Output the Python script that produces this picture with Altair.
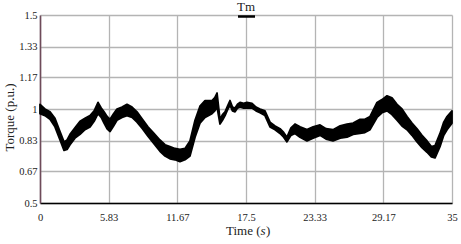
import altair as alt
import pandas as pd

# values (time in s, upper / lower edge of the noisy trace in p.u.)
time_s = [0.0, 0.42, 0.85, 1.27, 1.70, 2.04, 2.30, 2.55, 2.97, 3.40, 3.82, 4.25, 4.60, 4.93,
          5.20, 5.44, 5.70, 5.95, 6.25, 6.54, 6.97, 7.39, 7.82, 8.24, 8.70, 9.17, 9.68,
          10.19, 10.62, 11.04, 11.47, 11.89, 12.32, 12.74, 13.17, 13.59, 14.02, 14.61, 14.85,
          15.04, 15.29, 15.50, 15.72, 15.93, 16.14, 16.35, 16.57, 16.78, 16.99, 17.30, 17.58,
          18.01, 18.35, 18.69, 19.11, 19.54, 19.97, 20.39, 20.70, 20.98, 21.32, 21.66, 22.09,
          22.68, 23.20, 23.79, 24.30, 24.89, 25.50, 26.08, 26.60, 27.19, 27.60, 28.04, 28.63,
          29.05, 29.48, 29.90, 30.33, 30.75, 31.18, 31.60, 32.03, 32.45, 32.88, 33.25, 33.56,
          33.98, 34.30, 34.58, 35.0]
torque_hi = [1.025, 1.00, 0.985, 0.95, 0.88, 0.825, 0.835, 0.865, 0.90, 0.935, 0.95, 0.965,
             0.99, 1.035, 1.005, 0.985, 0.96, 0.945, 0.975, 1.00, 1.01, 1.025, 1.01, 0.985,
             0.945, 0.905, 0.87, 0.835, 0.81, 0.80, 0.79, 0.785, 0.79, 0.83, 0.94, 1.015,
             1.045, 1.045, 1.06, 1.085, 0.945, 0.97, 0.985, 1.015, 1.045, 1.01, 1.005, 1.025,
             1.035, 1.03, 1.035, 1.03, 1.01, 1.00, 0.99, 0.93, 0.91, 0.895, 0.875, 0.85,
             0.90, 0.92, 0.905, 0.89, 0.905, 0.915, 0.895, 0.89, 0.91, 0.92, 0.925, 0.945,
             0.945, 0.96, 1.035, 1.05, 1.07, 1.06, 1.025, 1.00, 0.96, 0.925, 0.895, 0.86,
             0.83, 0.80, 0.805, 0.87, 0.93, 0.96, 0.99]
torque_lo = [0.975, 0.965, 0.945, 0.905, 0.835, 0.78, 0.785, 0.81, 0.845, 0.865, 0.89, 0.905,
             0.935, 0.975, 0.955, 0.925, 0.895, 0.88, 0.91, 0.94, 0.955, 0.965, 0.955, 0.93,
             0.895, 0.855, 0.815, 0.775, 0.75, 0.735, 0.73, 0.72, 0.73, 0.75, 0.85, 0.925,
             0.955, 0.975, 0.99, 1.01, 0.92, 0.94, 0.965, 0.995, 1.02, 0.99, 0.985, 1.005,
             1.01, 1.005, 1.005, 1.005, 0.99, 0.98, 0.965, 0.905, 0.89, 0.87, 0.85, 0.825,
             0.86, 0.87, 0.85, 0.83, 0.845, 0.86, 0.84, 0.83, 0.845, 0.85, 0.865, 0.87,
             0.875, 0.89, 0.955, 0.98, 0.99, 0.97, 0.94, 0.91, 0.89, 0.86, 0.825, 0.795,
             0.77, 0.745, 0.74, 0.80, 0.86, 0.89, 0.925]

x_ticks = [0, 5.83, 11.67, 17.5, 23.33, 29.17, 35]
y_ticks = [0.5, 0.67, 0.83, 1, 1.17, 1.33, 1.5]

df = pd.DataFrame({"t": time_s, "hi": torque_hi, "lo": torque_lo})
one = pd.DataFrame({"k": [0]})

FONT = "Liberation Serif, Times New Roman, serif"

x_enc = alt.X("t:Q", scale=alt.Scale(domain=[0, 35], nice=False, zero=False),
              axis=alt.Axis(values=x_ticks, format=".2~f", title=None, grid=True,
                            gridColor="#b4b4b4", gridWidth=1.3, domainColor="black",
                            domainWidth=1.6, ticks=False, labelPadding=9,
                            labelFont=FONT, labelFontSize=10.5, labelColor="#222",
                            labelFlush=False))
y_enc = alt.Y("hi:Q", scale=alt.Scale(domain=[0.5, 1.5], nice=False, zero=False),
              axis=alt.Axis(values=y_ticks, format=".2~f", title="Torque (p.u.)",
                            grid=True, gridColor="#b4b4b4", gridWidth=1.3,
                            domainColor="#6e4b5a", domainWidth=1.6, ticks=False,
                            labelPadding=3, labelFont=FONT, labelFontSize=10.5,
                            labelColor="#222", labelFlush=False,
                            titleFont=FONT, titleFontSize=13, titleFontWeight="normal",
                            titleColor="#222", titleX=-31, titleY=102, titleAngle=270,
                            titleAlign="center", titleBaseline="middle"))

trace = alt.Chart(df).mark_area(fill="black", stroke="black", strokeWidth=1.8,
                                strokeJoin="round").encode(x=x_enc, y=y_enc, y2="lo:Q")

txt = dict(font=FONT, fontSize=13, color="#222")
t1 = alt.Chart(one).mark_text(align="right", baseline="alphabetic", **txt).encode(
    x=alt.value(220.5), y=alt.value(220), text=alt.value("Time ("))
t2 = alt.Chart(one).mark_text(align="left", baseline="alphabetic", fontStyle="italic", **txt).encode(
    x=alt.value(220.5), y=alt.value(220), text=alt.value("s"))
t3 = alt.Chart(one).mark_text(align="left", baseline="alphabetic", **txt).encode(
    x=alt.value(226), y=alt.value(220), text=alt.value(")"))

leg_text = alt.Chart(one).mark_text(align="center", baseline="middle", **txt).encode(
    x=alt.value(206), y=alt.value(-8), text=alt.value("Tm"))
leg_line = alt.Chart(one).mark_rule(color="black", strokeWidth=2.5).encode(
    x=alt.value(198), x2=alt.value(215), y=alt.value(1.5))

chart = alt.layer(trace, t1, t2, t3, leg_text, leg_line).properties(
    width=412, height=188,
    autosize=alt.AutoSizeParams(type="none"),
    padding={"left": 40, "top": 15, "right": 9, "bottom": 41},
    background="white",
).configure_view(strokeWidth=0)

chart.save("out.html", embed_options={"renderer": "svg", "actions": False})
